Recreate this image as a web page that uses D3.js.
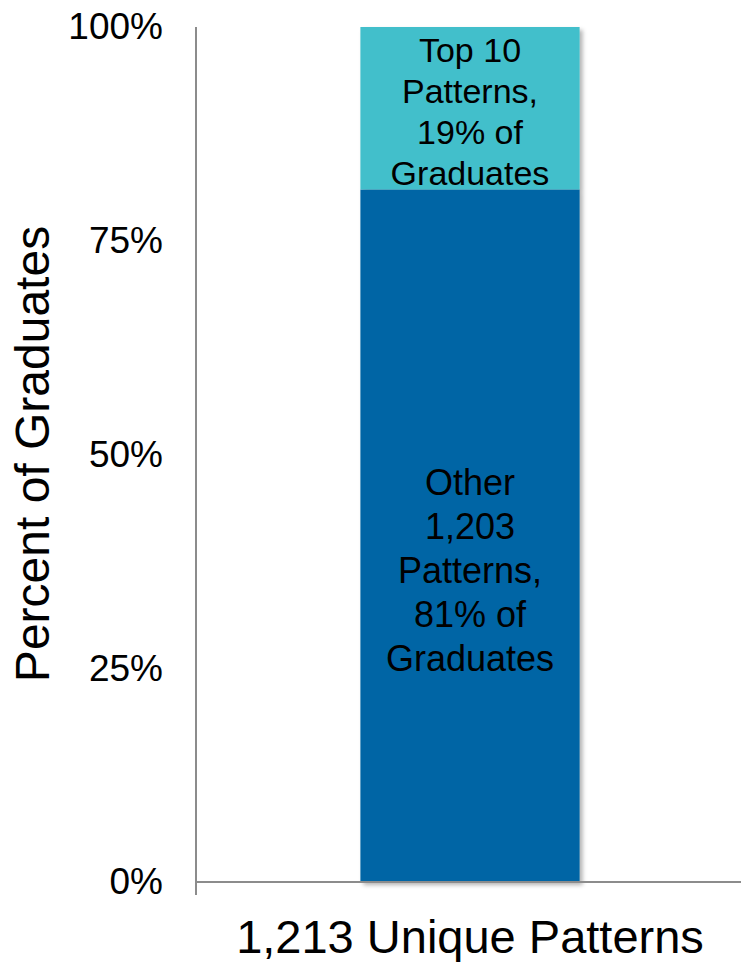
<!DOCTYPE html>
<html>
<head>
<meta charset="utf-8">
<script src="https://cdn.jsdelivr.net/npm/d3@7"></script>
<style>
  body { margin: 0; background: #fff; }
  svg { display: block; font-family: "Liberation Sans", Arial, sans-serif; }
</style>
</head>
<body>
<div id="chart"></div>
<script>
// data
var categories = ['1,213 Unique Patterns'];
var seriesNames = ['Other', 'Top 10'];
var seriesValues = [81, 19];
var seriesLabels = [
    ['Other', '1,203', 'Patterns,', '81% of', 'Graduates'],
    ['Top 10', 'Patterns,', '19% of', 'Graduates']
];
var yTicks = [0, 25, 50, 75, 100];

var width = 741, height = 962;
var margin = { top: 27, right: -3, bottom: 80, left: 196 };
var colors = ['#0065a5', '#43bfcb'];

var svg = d3.select('#chart').append('svg')
    .attr('width', width)
    .attr('height', height);

// soft shadow on the bar
var defs = svg.append('defs');
defs.append('filter')
    .attr('id', 'shadow')
    .attr('x', '-10%').attr('y', '-10%')
    .attr('width', '130%').attr('height', '130%')
    .append('feDropShadow')
    .attr('dx', 3).attr('dy', 3)
    .attr('stdDeviation', 2)
    .attr('flood-color', '#000')
    .attr('flood-opacity', 0.3);

var x = d3.scaleBand()
    .domain(categories)
    .range([margin.left, width - margin.right])
    .paddingInner(0.6)
    .paddingOuter(0.3);

var y = d3.scaleLinear()
    .domain([0, 100])
    .range([height - margin.bottom, margin.top]);

// stack the two series
var rows = categories.map(function (c) {
    var r = { cat: c };
    seriesNames.forEach(function (s, i) { r[s] = seriesValues[i]; });
    return r;
});
var stacked = d3.stack().keys(seriesNames)(rows);

var barG = svg.append('g').attr('filter', 'url(#shadow)');
stacked.forEach(function (layer, i) {
    barG.selectAll('rect.s' + i)
        .data(layer)
        .enter().append('rect')
        .attr('class', 's' + i)
        .attr('x', function (d) { return x(d.data.cat); })
        .attr('width', x.bandwidth())
        .attr('y', function (d) { return y(d[1]); })
        .attr('height', function (d) { return y(d[0]) - y(d[1]); })
        .attr('fill', colors[i]);
});

// y axis
var yAxis = svg.append('g')
    .attr('transform', 'translate(' + margin.left + ',0)')
    .call(d3.axisLeft(y)
        .tickValues(yTicks)
        .tickFormat(function (d) { return d + '%'; })
        .tickSize(0)
        .tickPadding(33));
yAxis.select('.domain').remove();
yAxis.selectAll('text')
    .attr('font-size', 37)
    .attr('fill', '#000')
    .attr('font-family', '"Liberation Sans", Arial, sans-serif');

svg.append('line')
    .attr('x1', margin.left).attr('x2', margin.left)
    .attr('y1', y(100)).attr('y2', y(0) + 13)
    .attr('stroke', '#8c8c8c').attr('stroke-width', 2);

// x axis
svg.append('line')
    .attr('x1', margin.left).attr('x2', width)
    .attr('y1', y(0)).attr('y2', y(0))
    .attr('stroke', '#8c8c8c').attr('stroke-width', 2);

svg.selectAll('text.xlab')
    .data(categories)
    .enter().append('text')
    .attr('class', 'xlab')
    .attr('x', function (d) { return x(d) + x.bandwidth() / 2; })
    .attr('y', 953)
    .attr('text-anchor', 'middle')
    .attr('font-size', 47)
    .attr('fill', '#000')
    .text(function (d) { return d; });

// y axis title
svg.append('text')
    .attr('transform', 'translate(49,' + 454 + ') rotate(-90)')
    .attr('text-anchor', 'middle')
    .attr('font-size', 48)
    .attr('fill', '#000')
    .text('Percent of Graduates');

// labels inside the segments
var lineGap = [44, 41];
var firstBaseline = [495, 62];
var labelSize = [36, 34];
stacked.forEach(function (layer, i) {
    layer.forEach(function (d) {
        var cx = x(d.data.cat) + x.bandwidth() / 2;
        var t = svg.append('text')
            .attr('text-anchor', 'middle')
            .attr('font-size', labelSize[i])
            .attr('fill', '#000');
        seriesLabels[i].forEach(function (line, k) {
            t.append('tspan')
                .attr('x', cx)
                .attr('y', firstBaseline[i] + k * lineGap[i])
                .text(line);
        });
    });
});
</script>
</body>
</html>
